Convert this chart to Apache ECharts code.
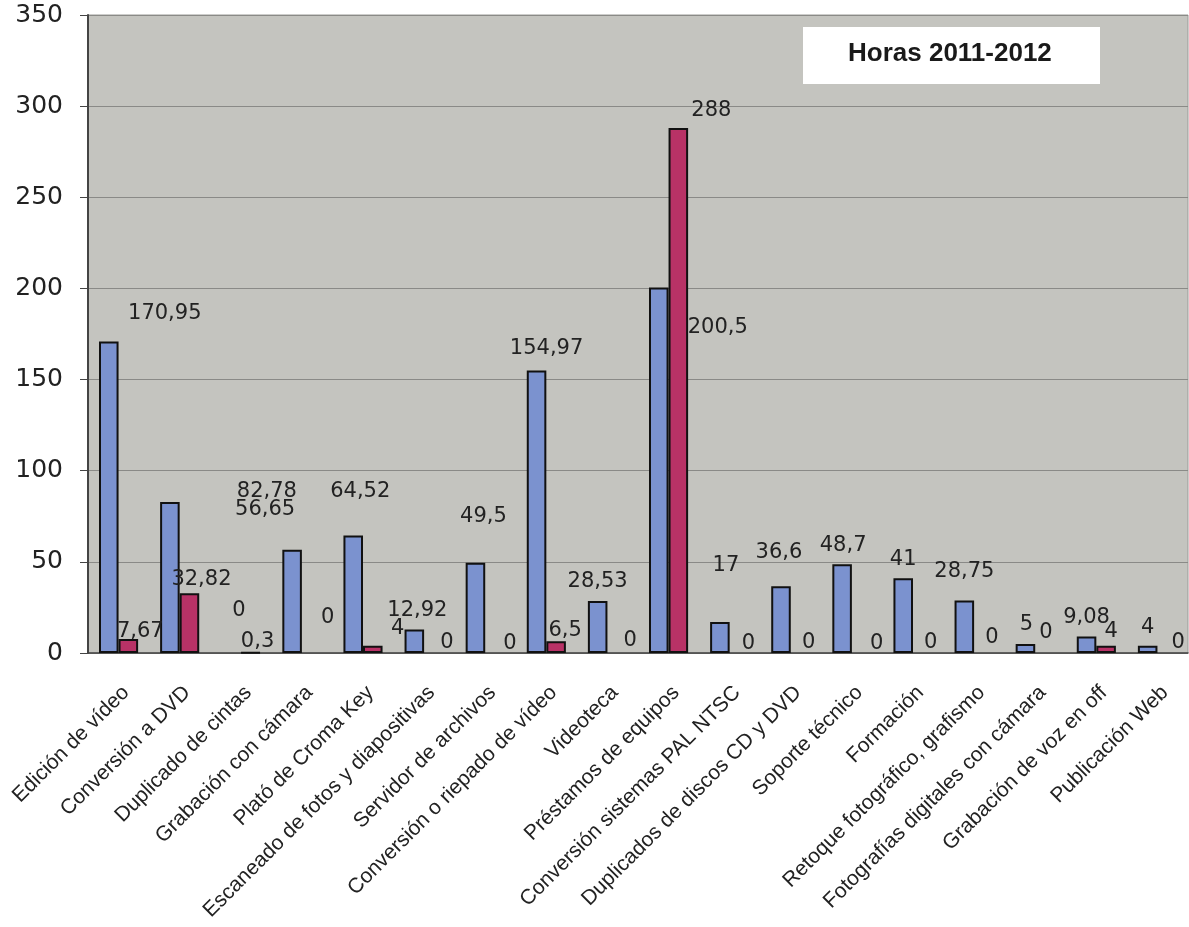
<!DOCTYPE html>
<html>
<head>
<meta charset="utf-8">
<script src="https://cdn.jsdelivr.net/npm/echarts@6/dist/echarts.min.js"></script>
<style>
  html, body { margin: 0; padding: 0; background: #fff; }
  #main { width: 1189px; height: 927px; }
</style>
</head>
<body>
<div id="main"></div>
<script>
var categories = [
  "Edición de vídeo", "Conversión a DVD", "Duplicado de cintas", "Grabación con cámara",
  "Plató de Croma Key", "Escaneado de fotos y diapositivas", "Servidor de archivos",
  "Conversión o riepado de vídeo", "Videoteca", "Préstamos de equipos",
  "Conversión sistemas PAL NTSC", "Duplicados de discos CD y DVD", "Soporte técnico",
  "Formación", "Retoque fotográfico, grafismo", "Fotografías digitales con cámara",
  "Grabación de voz en off", "Publicación Web"
];
var blueValues = [170.95, 82.78, 0, 56.65, 64.52, 12.92, 49.5, 154.97, 28.53, 200.5, 17, 36.6, 48.7, 41, 28.75, 5, 9.08, 4];
var redValues = [7.67, 32.82, 0.3, 0, 4, 0, 0, 6.5, 0, 288, 0, 0, 0, 0, 0, 0, 4, 0];
var yTicks = [0, 50, 100, 150, 200, 250, 300, 350];

// desplazamiento de las etiquetas (como en el original de Excel)
var blueLabelShift = [[56, -9], [97, 8], [8, -24], [-27, -22], [7, -25], [3, 0], [8, -28], [10, -3], [0, -1],
  [59, 59], [6, -38], [-2, -15], [1, 0], [0, 0], [0, -11], [1, -1], [0, 0], [0, 0]];
var redLabelShift = [[12, 11], [12, 5], [7, 8], [16, -17], [25, 1], [13, 8], [15, 9], [9, 8], [13, 6],
  [33, 1], [9, 9], [8, 8], [15, 9], [8, 8], [8, 3], [1, -2], [5, 4], [11, 8]];

function buildData(values, shifts) {
  return values.map(function (v, i) {
    var item = { value: v, label: { offset: shifts[i] } };
    if (v === 0) item.itemStyle = { borderWidth: 0 };
    return item;
  });
}

var labelStyle = {
  show: true,
  position: "top",
  distance: 8,
  color: "#222",
  fontSize: 21,
  fontFamily: "DejaVu Sans",
  formatter: function (p) { return String(p.value).replace(".", ","); }
};

var myChart = echarts.init(document.getElementById("main"));

var option = {
  animation: false,
  backgroundColor: "#fff",
  grid: {
    left: 88, right: 1, top: 15, bottom: 274,
    outerBoundsMode: "none",
    containLabel: false,
    show: true,
    backgroundColor: "#c4c4bf",
    borderColor: "#9a9a96",
    borderWidth: 1
  },
  xAxis: {
    type: "category",
    data: categories,
    axisLine: { lineStyle: { color: "#444", width: 1.5 } },
    axisTick: { length: 5, lineStyle: { color: "#444" } },
    axisLabel: {
      interval: 0,
      rotate: 45,
      margin: 29,
      verticalAlign: "top",
      color: "#222",
      fontSize: 21,
      fontFamily: "Liberation Sans"
    }
  },
  yAxis: {
    type: "value",
    min: yTicks[0],
    max: yTicks[yTicks.length - 1],
    interval: 50,
    axisLine: { show: true, lineStyle: { color: "#444", width: 2 } },
    axisTick: { show: true, length: 8, lineStyle: { color: "#444" } },
    axisLabel: { margin: 25, color: "#222", fontSize: 25, fontFamily: "DejaVu Sans" },
    splitLine: { lineStyle: { color: "#8a8a87", width: 1.2 } }
  },
  graphic: [
    {
      type: "rect",
      left: 803, top: 27,
      shape: { width: 297, height: 57 },
      style: { fill: "#fff" }
    },
    {
      type: "text",
      left: 951 - 103, top: 41,
      style: {
        text: "Horas 2011-2012",
        fill: "#1a1a1a",
        font: "bold 26px 'Liberation Sans'"
      }
    }
  ],
  series: [
    {
      name: "Horas 2010-2011",
      type: "bar",
      barGap: "0%",
      barCategoryGap: "36%",
      data: buildData(blueValues, blueLabelShift),
      itemStyle: { color: "#7b92cf", borderColor: "#111", borderWidth: 2 },
      label: labelStyle
    },
    {
      name: "Horas 2011-2012",
      type: "bar",
      data: buildData(redValues, redLabelShift),
      itemStyle: { color: "#b83266", borderColor: "#111", borderWidth: 2 },
      label: labelStyle
    }
  ]
};

myChart.setOption(option);
</script>
</body>
</html>
